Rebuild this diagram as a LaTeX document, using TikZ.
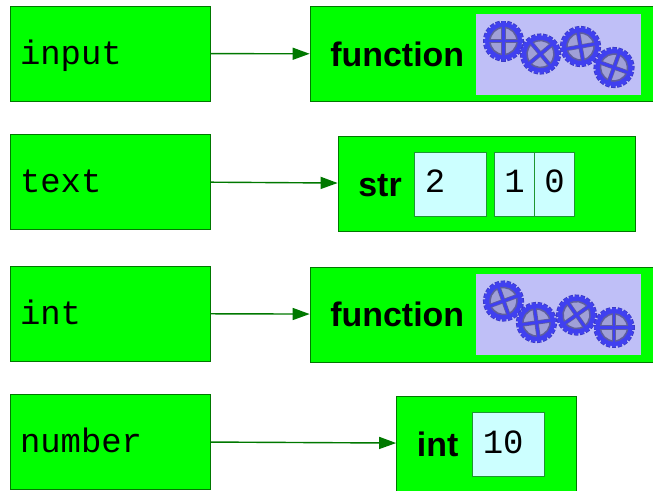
\documentclass[tikz,border=0pt]{standalone}
\usepackage{fontspec}
\setmainfont{Liberation Sans}
\setmonofont{Liberation Mono}
\usepackage{tikz}
\usepackage{xcolor}
\usetikzlibrary{arrows.meta}
\definecolor{boxgreen}{RGB}{0,255,0}
\definecolor{edgegreen}{RGB}{0,120,0}
\definecolor{cellblue}{RGB}{204,255,255}
\definecolor{cellline}{RGB}{30,150,50}
\definecolor{lavender}{RGB}{191,191,247}
\definecolor{gearblue}{RGB}{64,64,240}
\definecolor{geardark}{RGB}{50,50,120}
\definecolor{gearhole}{RGB}{160,160,215}
\tikzset{
  namebox/.style={draw=edgegreen, fill=boxgreen, rectangle, minimum width=4cm, minimum height=1.9cm,
    inner xsep=.2cm, text width=3.6cm, align=left, font=\ttfamily\fontsize{19.3}{19.3}\selectfont,
    text height=.52cm, text depth=.08cm},
  objbox/.style={draw=edgegreen, fill=boxgreen, rectangle, minimum height=1.9cm},
  typename/.style={anchor=base west, inner sep=0pt, font=\bfseries\fontsize{19.3}{19.3}\selectfont},
  cellbox/.style={draw=cellline, fill=cellblue, rectangle, minimum height=1.28cm, inner xsep=0pt,
    font=\ttfamily\fontsize{19.3}{19.3}\selectfont, text height=.4cm, text depth=.05cm},
  wordcell/.style={cellbox, minimum width=1.45cm, inner xsep=.21cm, text width=1.03cm, align=left},
  picbox/.style={fill=lavender, rectangle, minimum width=3.3cm, minimum height=1.62cm},
  link/.style={draw=edgegreen, thick, -{Stealth[length=.34cm,width=.24cm,inset=0pt]}},
  pics/gear/.style={code={
    \foreach \a in {0,18,...,342}
      \draw[geardark!35!gearblue, line width=.09cm] (\a:.3) -- (\a:.41);
    \foreach \a in {0,18,...,342}
      \draw[gearblue, line width=.07cm] (\a:.3) -- (\a:.395);
    \fill[gearblue] (0,0) circle (.37);
    \fill[gearhole, draw=geardark!60!gearhole, line width=.03cm] (0,0) circle (.27);
    \draw[geardark!60!gearhole, line width=.085cm] (-.27,0) -- (.27,0) (0,-.27) -- (0,.27);
    \draw[gearblue, line width=.055cm] (-.3,0) -- (.3,0) (0,-.3) -- (0,.3);
  }}
}
\begin{document}
\begin{tikzpicture}
\useasboundingbox (0,0) rectangle (13.06,-9.8);
\clip (0,0) rectangle (13.06,-9.8);

% names on the left
\node[namebox] (input) at (2.2,-1.07) {input};
\node[namebox] (text) at (2.2,-3.63) {text};
\node[namebox] (int) at (2.2,-6.27) {int};
\node[namebox] (number) at (2.2,-8.83) {number};

% first function
\node[objbox, minimum width=7cm] (func1) at (9.7,-1.08) {};
\node[typename] (func1name) at (6.6,-1.32) {function};
\node[picbox] (func1pic) at (11.17,-1.09) {};
\pic[rotate=0] at (10.07,-.82) {gear};
\pic[rotate=40] at (10.81,-1.08) {gear};
\pic[rotate=10] at (11.61,-.93) {gear};
\pic[rotate=-20] at (12.28,-1.35) {gear};

% string
\node[objbox, minimum width=5.94cm] (str) at (9.73,-3.68) {};
\node[typename] (strname) at (7.16,-3.92) {str};
\node[wordcell] (digit2) at (9.01,-3.68) {2};
\node[cellbox, minimum width=.8cm] (digit1) at (10.29,-3.68) {1};
\node[cellbox, minimum width=.8cm] (digit0) at (11.09,-3.68) {0};

% second function
\node[objbox, minimum width=7cm] (func2) at (9.7,-6.29) {};
\node[typename] (func2name) at (6.6,-6.52) {function};
\node[picbox] (func2pic) at (11.17,-6.29) {};
\pic[rotate=20] at (10.07,-6.02) {gear};
\pic[rotate=8] at (10.73,-6.45) {gear};
\pic[rotate=35] at (11.53,-6.3) {gear};
\pic[rotate=0] at (12.28,-6.55) {gear};

% integer
\node[objbox, minimum width=3.6cm] (num) at (9.73,-8.87) {};
\node[typename] (numname) at (8.33,-9.13) {int};
\node[wordcell] (digits) at (10.17,-8.89) {10};

\draw[link] (input) -- (func1);
\draw[link] (text) -- (str);
\draw[link] (int) -- (func2);
\draw[link] (number) -- (num);
\end{tikzpicture}
\end{document}
